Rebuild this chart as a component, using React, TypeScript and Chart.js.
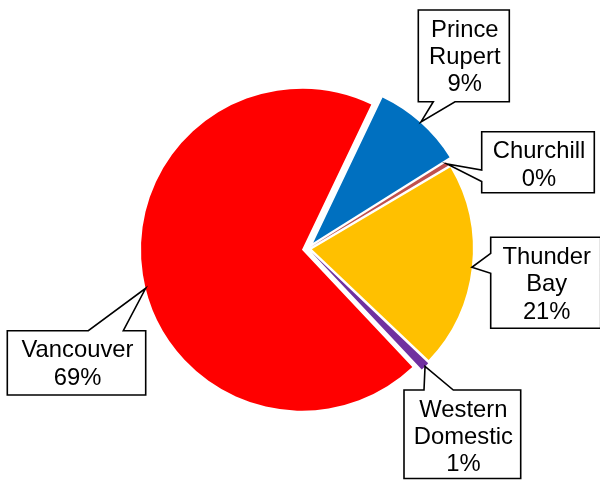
import React, { useEffect, useRef } from 'react';
import { Chart, registerables } from 'chart.js';

Chart.register(...registerables);

// ---- data ----
const categories = ['Prince Rupert', 'Churchill', 'Thunder Bay', 'Western Domestic', 'Vancouver'];
const shares = [9.0, 0.4, 20.6, 0.9, 69.1];
const labelLines = [['Prince', 'Rupert'], ['Churchill'], ['Thunder', 'Bay'], ['Western', 'Domestic'], ['Vancouver']];

// ---- styles ----
const sliceColors = ['#0070C0', '#C0504D', '#FFC000', '#7030A0', '#FF0000'];
const explode = [8, 2, 4, 5, 6];
const startRotation = 25.5;
const pieRadius = 161;

type Callout = { x: number; y: number; w: number; h: number; side: 'top' | 'bottom' | 'left'; a: number; b: number; frac: number; reach: number };
const callouts: Callout[] = [
  { x: 418.3, y: 10, w: 91, h: 91.7, side: 'bottom', a: 433.3, b: 455, frac: 0.5, reach: 1 },
  { x: 481.7, y: 131.7, w: 112.6, h: 61, side: 'left', a: 170, b: 181.5, frac: 0.5, reach: 0 },
  { x: 490.7, y: 237.3, w: 110, h: 91, side: 'left', a: 253.3, b: 273.3, frac: 0.5, reach: 0 },
  { x: 404, y: 390, w: 116.7, h: 88.5, side: 'top', a: 424, b: 453.3, frac: 0.5, reach: 0 },
  { x: 7.3, y: 330.7, w: 138.4, h: 64.3, side: 'top', a: 88.3, b: 123.3, frac: 0.48, reach: 0 },
];

const FONT = '23.8px "Liberation Sans", Arial, sans-serif';

const explodePlugin = {
  id: 'explodeSlices',
  beforeDatasetDraw(chart: any, args: any) {
    const ctx = chart.ctx;
    args.meta.data.forEach((arc: any, i: number) => {
      const mid = (arc.startAngle + arc.endAngle) / 2;
      const d = explode[i] || 0;
      ctx.save();
      ctx.translate(Math.cos(mid) * d, Math.sin(mid) * d);
      arc.draw(ctx);
      ctx.restore();
    });
    return false;
  },
};

const calloutPlugin = {
  id: 'callouts',
  afterDraw(chart: any) {
    const ctx = chart.ctx;
    const meta = chart.getDatasetMeta(0);
    const values = chart.data.datasets[0].data as number[];
    const total = values.reduce((s, v) => s + v, 0);
    meta.data.forEach((arc: any, i: number) => {
      const c = callouts[i];
      const mid = (arc.startAngle + arc.endAngle) / 2;
      const ang = arc.startAngle + c.frac * (arc.endAngle - arc.startAngle);
      const d = explode[i] || 0;
      const tx = arc.x + Math.cos(mid) * d + Math.cos(ang) * (arc.outerRadius + c.reach);
      const ty = arc.y + Math.sin(mid) * d + Math.sin(ang) * (arc.outerRadius + c.reach);
      const { x, y, w, h, side, a, b } = c;
      ctx.save();
      ctx.beginPath();
      ctx.moveTo(x, y);
      if (side === 'top') {
        ctx.lineTo(a, y);
        ctx.lineTo(tx, ty);
        ctx.lineTo(b, y);
      }
      ctx.lineTo(x + w, y);
      ctx.lineTo(x + w, y + h);
      if (side === 'bottom') {
        ctx.lineTo(b, y + h);
        ctx.lineTo(tx, ty);
        ctx.lineTo(a, y + h);
      }
      ctx.lineTo(x, y + h);
      if (side === 'left') {
        ctx.lineTo(x, b);
        ctx.lineTo(tx, ty);
        ctx.lineTo(x, a);
      }
      ctx.closePath();
      ctx.fillStyle = '#ffffff';
      ctx.fill();
      ctx.lineWidth = 1.6;
      ctx.lineJoin = 'miter';
      ctx.strokeStyle = '#000000';
      ctx.stroke();

      const pct = Math.round((values[i] / total) * 100) + '%';
      const lines = [...labelLines[i], pct];
      ctx.font = FONT;
      ctx.fillStyle = '#000000';
      ctx.textAlign = 'center';
      ctx.textBaseline = 'alphabetic';
      const cx = x + w / 2 + 1;
      lines.forEach((t, k) => {
        ctx.fillText(t, cx, y + 26.6 + k * 27.3);
      });
      ctx.restore();
    });
  },
};

export default function App() {
  const canvasRef = useRef<HTMLCanvasElement | null>(null);

  useEffect(() => {
    if (!canvasRef.current) return;
    const chart = new Chart(canvasRef.current, {
      type: 'pie',
      data: {
        labels: categories,
        datasets: [
          {
            data: shares,
            backgroundColor: sliceColors,
            borderWidth: 0,
            radius: pieRadius,
          } as any,
        ],
      },
      options: {
        animation: false,
        responsive: true,
        maintainAspectRatio: false,
        events: [],
        rotation: startRotation,
        layout: { padding: { left: 20, right: 4.2, top: 20, bottom: 3.4 } },
        plugins: {
          legend: { display: false },
          tooltip: { enabled: false },
        },
      } as any,
      plugins: [explodePlugin, calloutPlugin],
    });
    return () => chart.destroy();
  }, []);

  return (
    <div style={{ position: 'fixed', left: 0, top: 0, width: 600, height: 481, background: '#ffffff' }}>
      <canvas ref={canvasRef} />
    </div>
  );
}
